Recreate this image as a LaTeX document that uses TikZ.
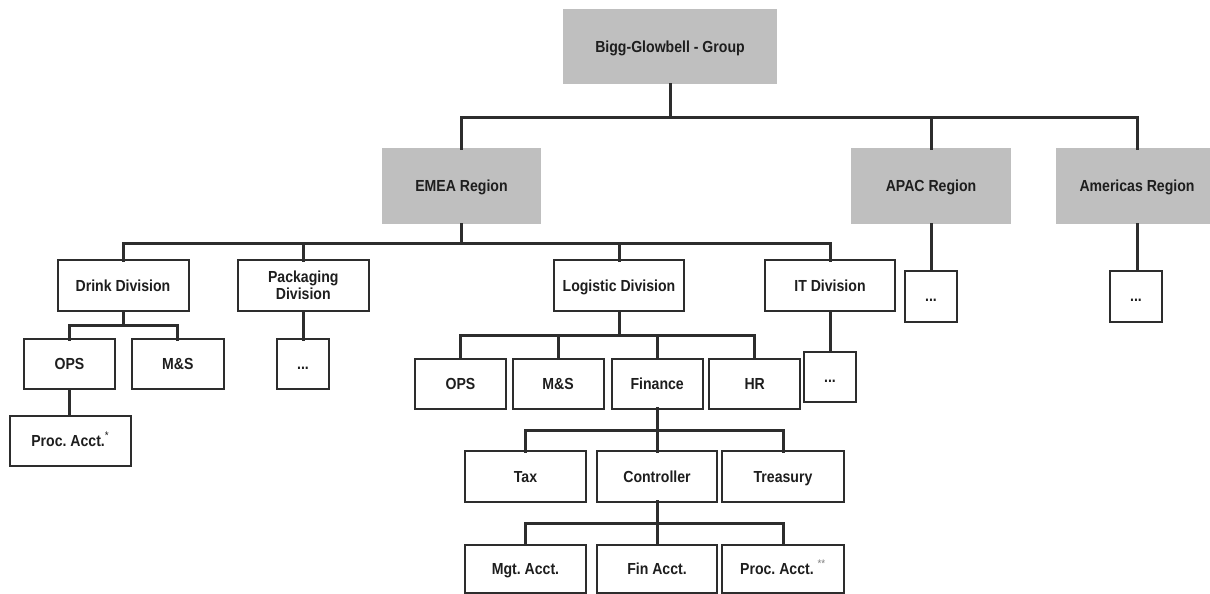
\documentclass[tikz,border=0pt]{standalone}
\usepackage{fontspec}
\newfontfamily\lblfont[FakeStretch=0.88]{Liberation Sans}
\definecolor{boxgray}{RGB}{191,191,191}
\definecolor{linecol}{RGB}{45,45,45}
\definecolor{txtcol}{RGB}{30,30,30}
\tikzset{
  lbl/.style={font=\lblfont\bfseries\fontsize{16}{17}\selectfont\frenchspacing, text=txtcol, inner sep=0pt, outer sep=0pt, align=center, text height=11.5pt, text depth=0pt},
  graybox/.style={lbl, fill=boxgray, draw=none},
  wbox/.style={lbl, fill=white, draw=linecol, line width=2pt},
  conn/.style={draw=linecol, line width=3pt, line cap=rect},
}
\begin{document}
\begin{tikzpicture}[x=1pt,y=-1pt]
\useasboundingbox (0,0) rectangle (1210,594);
% ---- gray boxes
\node[graybox, minimum width=214, minimum height=75] (bigg) at (670,46.5) {Bigg-Glowbell - Group};
\node[graybox, minimum width=159, minimum height=76] (emea) at (461.5,186) {EMEA Region};
\node[graybox, minimum width=159.5, minimum height=76] (apac) at (931,186) {APAC Region};
\node[graybox, minimum width=162, minimum height=76] (amer) at (1137,186) {Americas Region};
% ---- divisions
\node[wbox, minimum width=131, minimum height=51] (drink) at (123,285.5) {Drink Division};
\node[wbox, minimum width=130.5, minimum height=51, text height=28.5pt] (pack) at (303.3,285.5) {Packaging\\Division};
\node[wbox, minimum width=130, minimum height=51] (logi) at (619,285.5) {Logistic Division};
\node[wbox, minimum width=130, minimum height=51] (itd) at (830,285.5) {IT Division};
\node[wbox, minimum width=52, minimum height=51] (apacdots) at (931,296) {...};
\node[wbox, minimum width=52, minimum height=51] (amerdots) at (1136,296) {...};
% ---- drink children
\node[wbox, minimum width=91.5, minimum height=50] (dops) at (69.5,364) {OPS};
\node[wbox, minimum width=91.5, minimum height=50] (dms) at (177.8,364) {M\&S};
\node[wbox, minimum width=120.5, minimum height=50] (proc1) at (70.3,440.5) {Proc. Acct.\textsuperscript{\mdseries*}};
\node[wbox, minimum width=52, minimum height=50] (packdots) at (303,364) {...};
% ---- logistic children
\node[wbox, minimum width=91.5, minimum height=50] (lops) at (460.5,383.7) {OPS};
\node[wbox, minimum width=91, minimum height=50] (lms) at (558,383.7) {M\&S};
\node[wbox, minimum width=91, minimum height=50] (fin) at (657.2,383.7) {Finance};
\node[wbox, minimum width=91.4, minimum height=50] (hr) at (754.7,383.7) {HR};
\node[wbox, minimum width=51.6, minimum height=50.6] (itdots) at (830,377) {...};
% ---- finance children
\node[wbox, minimum width=121, minimum height=50.4] (tax) at (525.5,476.5) {Tax};
\node[wbox, minimum width=119.3, minimum height=50.4] (ctrl) at (657,476.5) {Controller};
\node[wbox, minimum width=122, minimum height=50.4] (treas) at (783,476.5) {Treasury};
% ---- controller children
\node[wbox, minimum width=121, minimum height=48] (mgt) at (525.5,568.5) {Mgt. Acct.};
\node[wbox, minimum width=119.3, minimum height=48] (fina) at (657,568.5) {Fin Acct.};
\node[wbox, minimum width=122, minimum height=48] (proc2) at (783,568.5) {Proc. Acct. \textsuperscript{\mdseries\color{gray}**}};
% ---- connectors
\path[conn] (bigg.south) -- (bigg.south |- 0,117);
\path[conn] (emea.north) -- (emea.north |- 0,117) -- (amer.north |- 0,117) -- (amer.north);
\path[conn] (apac.north) -- (apac.north |- 0,117);
\path[conn] (emea.south) -- (emea.south |- 0,243);
\path[conn] (drink.north) -- (drink.north |- 0,243) -- (itd.north |- 0,243) -- (itd.north);
\path[conn] (pack.north) -- (pack.north |- 0,243);
\path[conn] (logi.north) -- (logi.north |- 0,243);
\path[conn] (apac.south) -- (apacdots.north);
\path[conn] (amer.south) -- (amer.south |- amerdots.north);
\path[conn] (drink.south) -- (drink.south |- 0,325);
\path[conn] (dops.north) -- (dops.north |- 0,325) -- (dms.north |- 0,325) -- (dms.north);
\path[conn] (dops.south) -- (dops.south |- proc1.north);
\path[conn] (pack.south) -- (pack.south |- packdots.north);
\path[conn] (logi.south) -- (logi.south |- 0,335);
\path[conn] (lops.north) -- (lops.north |- 0,335) -- (hr.north |- 0,335) -- (hr.north);
\path[conn] (lms.north) -- (lms.north |- 0,335);
\path[conn] (fin.north) -- (fin.north |- 0,335);
\path[conn] (itd.south) -- (itd.south |- itdots.north);
\path[conn] (fin.south) -- (fin.south |- 0,430.7);
\path[conn] (tax.north) -- (tax.north |- 0,430.7) -- (treas.north |- 0,430.7) -- (treas.north);
\path[conn] (ctrl.north) -- (ctrl.north |- 0,430.7);
\path[conn] (ctrl.south) -- (ctrl.south |- 0,523.3);
\path[conn] (mgt.north) -- (mgt.north |- 0,523.3) -- (proc2.north |- 0,523.3) -- (proc2.north);
\path[conn] (fina.north) -- (fina.north |- 0,523.3);
\end{tikzpicture}
\end{document}
